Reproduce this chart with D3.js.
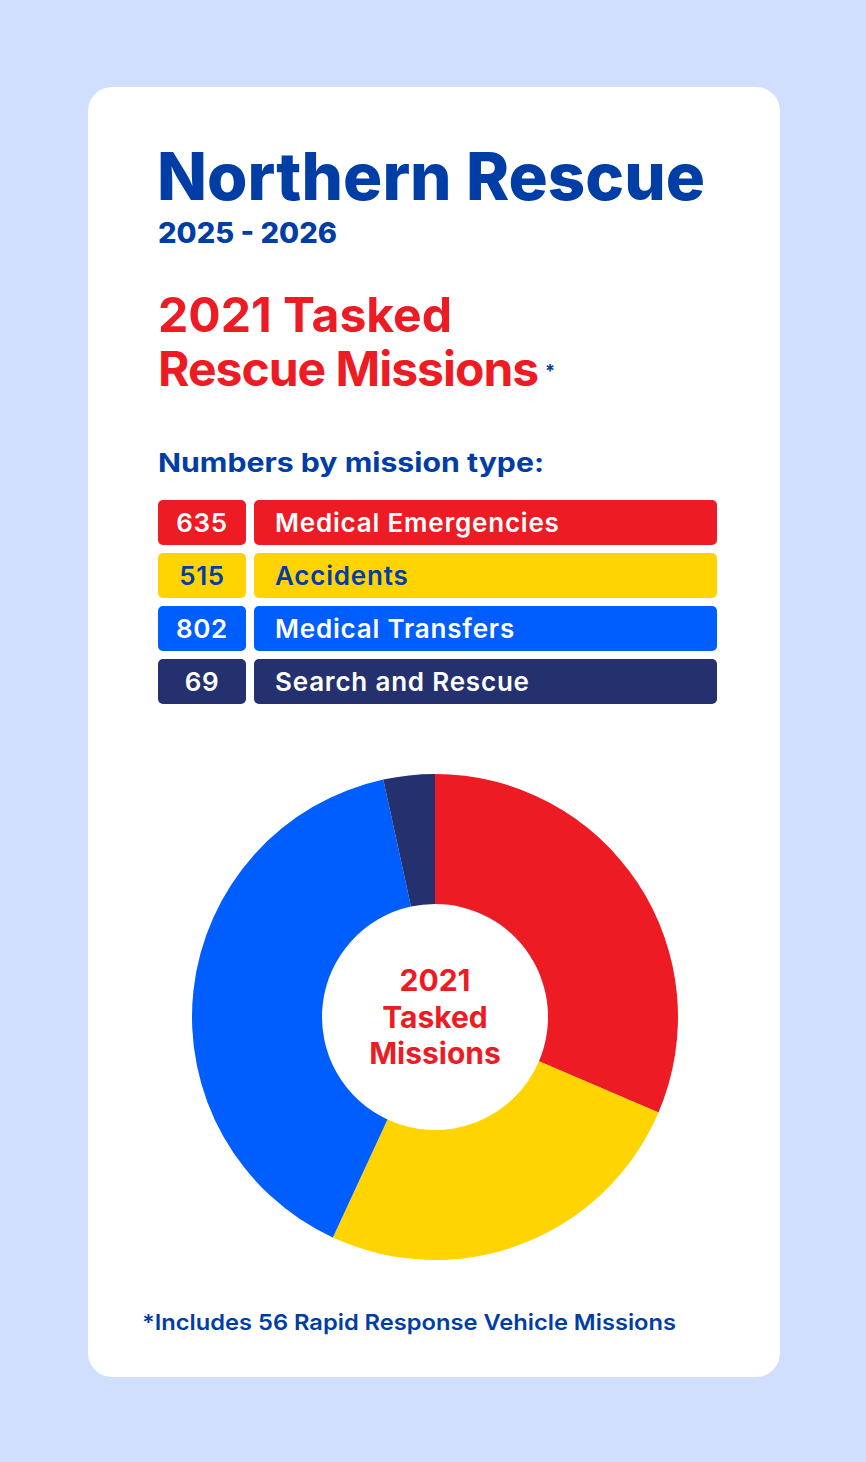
<!DOCTYPE html>
<html><head><meta charset="utf-8">
<script src="https://cdn.jsdelivr.net/npm/d3@7"></script>
<style>
html,body{margin:0;padding:0;background:#cfdffd;}
svg{display:block;}
text{font-family:Inter,"DejaVu Sans",sans-serif;}
</style></head>
<body>
<svg id="chart" width="866" height="1462"></svg>
<script>
const categories = ["Medical Emergencies","Accidents","Medical Transfers","Search and Rescue"];
const values = [635, 515, 802, 69];
const colors = ["#ed1c24","#ffd400","#005eff","#24316e"];
const numberColors = ["#ffffff","#003da5","#ffffff","#ffffff"];
const total = 2021;

const svg = d3.select("#chart");
const blue = "#003da5", red = "#ed1c24";

svg.append("rect").attr("width",866).attr("height",1462).attr("fill","#cfdffd");
svg.append("rect").attr("x",88).attr("y",87).attr("width",692).attr("height",1290).attr("rx",24).attr("fill","#fff");

function txt(s,x,y,size,weight,fill,len,anchor){
  const t = svg.append("text").attr("x",x).attr("y",y).attr("font-size",size)
    .attr("font-weight",weight).attr("fill",fill).text(s);
  if(len) t.attr("textLength",len).attr("lengthAdjust","spacingAndGlyphs");
  if(anchor) t.attr("text-anchor",anchor);
  return t;
}
txt("Northern Rescue",157,200,66,800,blue,548);
txt("2025 - 2026",158,243,28,800,blue,179);
txt(total+" Tasked",158,332,48,700,red,294);
const rm = txt("Rescue Missions",158,386,48,700,red).attr("letter-spacing",-1);
const rmEnd = 158 + rm.node().getComputedTextLength();
txt("*",Math.max(rmEnd + 4, 545),377,18,700,blue);
txt("Numbers by mission type:",158,472,26,700,blue,386);

// legend
const rowY = d3.scaleBand().domain(categories).range([500,704]).paddingInner(8/53).paddingOuter(0);
const bh = rowY.bandwidth();
const rows = svg.append("g").selectAll("g").data(categories).join("g")
  .attr("transform",d=>`translate(0,${rowY(d)})`);
rows.append("rect").attr("x",158).attr("width",88).attr("height",bh).attr("rx",5).attr("fill",(d,i)=>colors[i]);
rows.append("rect").attr("x",254).attr("width",463).attr("height",bh).attr("rx",5).attr("fill",(d,i)=>colors[i]);
rows.append("text").attr("x",202).attr("y",32).attr("text-anchor","middle").attr("font-size",26)
  .attr("letter-spacing",0.6).attr("font-weight",600).attr("fill",(d,i)=>numberColors[i]).text((d,i)=>values[i]);
rows.append("text").attr("x",275).attr("y",32).attr("font-size",26).attr("letter-spacing",0.8)
  .attr("font-weight",600).attr("fill",(d,i)=>numberColors[i]).text(d=>d);

// donut
const cx = 435, cy = 1017;
const pie = d3.pie().sort(null).value(d=>d)(values);
const arc = d3.arc().innerRadius(113).outerRadius(243);
const g = svg.append("g").attr("transform",`translate(${cx},${cy})`);
g.selectAll("path").data(pie).join("path").attr("d",arc).attr("fill",(d,i)=>colors[i]);
[[String(total),991],["Tasked",1028],["Missions",1064]].forEach(([s,y])=>{
  txt(s,cx,y,30,700,red,null,"middle");
});

txt("*Includes 56 Rapid Response Vehicle Missions",142,1330,22,600,blue,534);
</script>
</body></html>
